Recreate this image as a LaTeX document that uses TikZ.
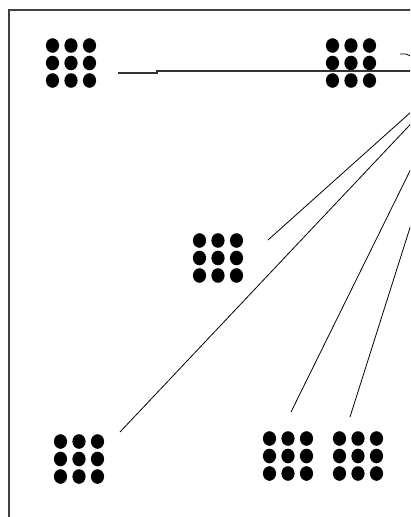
\documentclass[tikz,border=0pt]{standalone}
\begin{document}
\begin{tikzpicture}[x=1pt,y=-1pt,
  grid/.style={minimum width=52pt,minimum height=49pt,inner sep=0pt,
    path picture={\foreach \i in {-1,0,1}{\foreach \j in {-1,0,1}{
      \fill[black,shift={(path picture bounding box.center)}] (\i*18.5,\j*17.5) ellipse [x radius=6.6,y radius=7.3];}}}},
  wire/.style={draw=black,line width=0.8pt},
  hwire/.style={draw=black!80,line width=1.3pt},
  frame/.style={draw=black!75,line width=1.4pt}]
\useasboundingbox (0,0) rectangle (410,517);
\clip (0,0) rectangle (410,517);
\fill[white] (0,0) rectangle (410,517);
% frame
\draw[frame] (9,530) -- (9,10) -- (420,10);
% nodes
\node[grid] (A) at (71,63) {};
\node[grid] (B) at (351,63) {};
\node[grid] (C) at (218,258) {};
\node[grid] (D) at (79,459) {};
\node[grid] (E) at (288,456) {};
\node[grid] (F) at (358,456) {};
% connector ends
\coordinate (a1) at (118,73);
\coordinate (hub0) at (430,71);
\coordinate (c1) at (268,240);
\coordinate (hub1) at (440,86);
\coordinate (d1) at (120,432);
\coordinate (hub2) at (440,93);
\coordinate (e1) at (291,412);
\coordinate (hub3) at (440,110);
\coordinate (f1) at (350,417);
\coordinate (hub4) at (440,133);
\coordinate (k1) at (400,54);
\coordinate (hub5) at (420,60);
% connectors
\draw[hwire] (a1) -- (157,73) -- (157,71) -- (hub0);
\draw[wire] (c1) -- (hub1);
\draw[wire] (d1) -- (hub2);
\draw[wire] (e1) -- (hub3);
\draw[wire] (f1) -- (hub4);
\draw[wire] (k1) -- (406,54) -- (hub5);
\end{tikzpicture}
\end{document}
